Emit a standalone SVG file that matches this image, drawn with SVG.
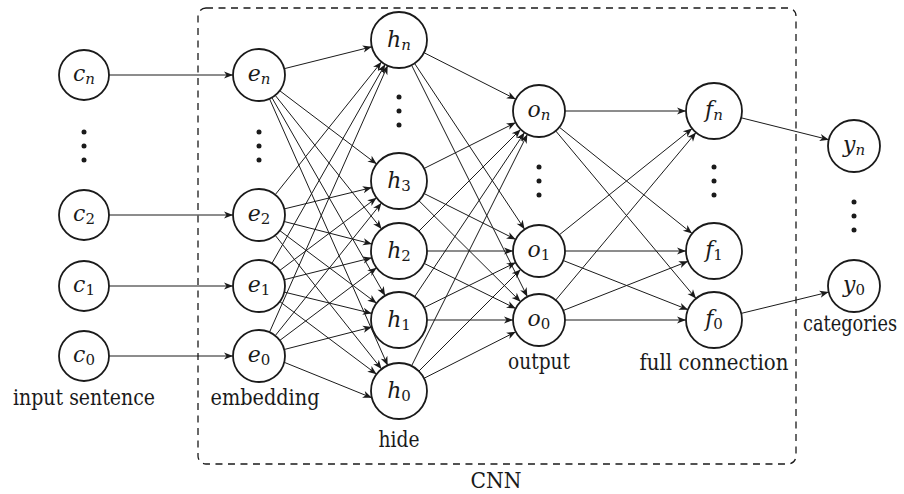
<svg xmlns="http://www.w3.org/2000/svg" width="904" height="494" viewBox="0 0 904 494">
<style>
.n{fill:#fff;stroke:#1a1a1a;stroke-width:1.8}
.c line{stroke:#1a1a1a;stroke-width:1;marker-end:url(#ah)}
.m{font-family:'DejaVu Serif',serif;font-style:italic;font-size:22px;fill:#1a1a1a;text-anchor:middle}
.s{font-style:normal;font-size:15px}
.si{font-style:italic;font-size:15px}
.t{font-family:'DejaVu Serif',serif;font-size:22px;fill:#1a1a1a;text-anchor:middle}
.d{fill:#1a1a1a}
</style>
<defs>
<marker id="ah" viewBox="-10 -5 11 10" refX="0" refY="0" markerWidth="11" markerHeight="10" markerUnits="userSpaceOnUse" orient="auto">
<path d="M0,0 L-9,-3.6 L-6.5,0 L-9,3.6 Z" fill="#1a1a1a"/>
</marker>
</defs>
<rect x="198" y="8" width="598" height="456" rx="8" fill="none" stroke="#1a1a1a" stroke-width="1.3" stroke-dasharray="7 5.5"/>
<g id="connectors" class="c">
<line x1="109" y1="75" x2="233" y2="75"/>
<line x1="109" y1="215" x2="233" y2="215"/>
<line x1="109" y1="286" x2="233" y2="286"/>
<line x1="109" y1="356" x2="233" y2="356"/>
<line x1="284.2" y1="68.7" x2="371.8" y2="46.8"/>
<line x1="279.7" y1="90.7" x2="376.7" y2="164.1"/>
<line x1="275.2" y1="95.3" x2="381.6" y2="229.1"/>
<line x1="271.9" y1="97.6" x2="385.1" y2="295.7"/>
<line x1="269.5" y1="98.8" x2="387.7" y2="365.4"/>
<line x1="275.2" y1="194.7" x2="381.5" y2="61.9"/>
<line x1="284.3" y1="208.9" x2="371.8" y2="187.6"/>
<line x1="284.2" y1="221.5" x2="371.9" y2="244.0"/>
<line x1="279.8" y1="230.6" x2="376.6" y2="303.2"/>
<line x1="275.2" y1="235.3" x2="381.6" y2="369.1"/>
<line x1="271.9" y1="263.4" x2="385.2" y2="64.3"/>
<line x1="279.8" y1="270.4" x2="376.6" y2="197.8"/>
<line x1="284.2" y1="279.7" x2="371.8" y2="257.8"/>
<line x1="284.3" y1="292.1" x2="371.8" y2="313.4"/>
<line x1="279.8" y1="301.6" x2="376.6" y2="374.2"/>
<line x1="269.5" y1="332.2" x2="387.7" y2="65.6"/>
<line x1="275.2" y1="335.7" x2="381.5" y2="202.9"/>
<line x1="279.8" y1="340.4" x2="376.6" y2="267.8"/>
<line x1="284.2" y1="349.5" x2="371.9" y2="327.0"/>
<line x1="284.2" y1="362.3" x2="371.8" y2="397.8"/>
<line x1="424.0" y1="52.7" x2="515.8" y2="99.2"/>
<line x1="414.5" y1="63.3" x2="524.6" y2="229.3"/>
<line x1="411.5" y1="65.0" x2="527.4" y2="296.7"/>
<line x1="424.0" y1="168.5" x2="515.7" y2="122.6"/>
<line x1="424.0" y1="193.5" x2="515.7" y2="239.4"/>
<line x1="418.9" y1="200.7" x2="520.6" y2="301.7"/>
<line x1="418.8" y1="231.2" x2="520.6" y2="129.4"/>
<line x1="427" y1="251" x2="513" y2="251"/>
<line x1="424.1" y1="263.4" x2="515.7" y2="308.5"/>
<line x1="414.6" y1="296.7" x2="524.5" y2="132.6"/>
<line x1="424.1" y1="307.6" x2="515.7" y2="262.5"/>
<line x1="427" y1="320" x2="513" y2="320"/>
<line x1="411.5" y1="366.0" x2="527.4" y2="134.3"/>
<line x1="418.8" y1="371.2" x2="520.6" y2="269.4"/>
<line x1="424.0" y1="378.3" x2="515.8" y2="331.8"/>
<line x1="565" y1="111" x2="686" y2="111"/>
<line x1="559.3" y1="127.2" x2="692.1" y2="233.5"/>
<line x1="555.7" y1="130.9" x2="696.0" y2="298.5"/>
<line x1="559.3" y1="234.8" x2="692.1" y2="128.5"/>
<line x1="565" y1="251" x2="686" y2="251"/>
<line x1="563.2" y1="260.5" x2="688.0" y2="309.7"/>
<line x1="555.7" y1="300.1" x2="696.0" y2="132.5"/>
<line x1="563.2" y1="310.5" x2="688.0" y2="261.3"/>
<line x1="565" y1="320" x2="686" y2="320"/>
<line x1="741.2" y1="117.8" x2="828.8" y2="139.7"/>
<line x1="741.2" y1="313.4" x2="828.7" y2="292.1"/>
</g>
<g id="cn"><circle class="n" cx="84" cy="75" r="25"/><text class="m" x="84" y="81">c<tspan class="si" dy="3">n</tspan></text></g>
<g id="c2"><circle class="n" cx="84" cy="215" r="25"/><text class="m" x="84" y="221">c<tspan class="s" dy="3">2</tspan></text></g>
<g id="c1"><circle class="n" cx="84" cy="286" r="25"/><text class="m" x="84" y="292">c<tspan class="s" dy="3">1</tspan></text></g>
<g id="c0"><circle class="n" cx="84" cy="356" r="25"/><text class="m" x="84" y="362">c<tspan class="s" dy="3">0</tspan></text></g>
<g id="c-dots"><circle class="d" cx="84" cy="132" r="2.5"/><circle class="d" cx="84" cy="146" r="2.5"/><circle class="d" cx="84" cy="160" r="2.5"/></g>
<g id="en"><circle class="n" cx="259" cy="75" r="26"/><text class="m" x="259" y="81">e<tspan class="si" dy="3">n</tspan></text></g>
<g id="e2"><circle class="n" cx="259" cy="215" r="26"/><text class="m" x="259" y="221">e<tspan class="s" dy="3">2</tspan></text></g>
<g id="e1"><circle class="n" cx="259" cy="286" r="26"/><text class="m" x="259" y="292">e<tspan class="s" dy="3">1</tspan></text></g>
<g id="e0"><circle class="n" cx="259" cy="356" r="26"/><text class="m" x="259" y="362">e<tspan class="s" dy="3">0</tspan></text></g>
<g id="e-dots"><circle class="d" cx="259" cy="132" r="2.5"/><circle class="d" cx="259" cy="146" r="2.5"/><circle class="d" cx="259" cy="160" r="2.5"/></g>
<g id="hn"><circle class="n" cx="399" cy="40" r="28"/><text class="m" x="399" y="47">h<tspan class="si" dy="3">n</tspan></text></g>
<g id="h3"><circle class="n" cx="399" cy="181" r="28"/><text class="m" x="399" y="188">h<tspan class="s" dy="3">3</tspan></text></g>
<g id="h2"><circle class="n" cx="399" cy="251" r="28"/><text class="m" x="399" y="258">h<tspan class="s" dy="3">2</tspan></text></g>
<g id="h1"><circle class="n" cx="399" cy="320" r="28"/><text class="m" x="399" y="327">h<tspan class="s" dy="3">1</tspan></text></g>
<g id="h0"><circle class="n" cx="399" cy="391" r="28"/><text class="m" x="399" y="398">h<tspan class="s" dy="3">0</tspan></text></g>
<g id="h-dots"><circle class="d" cx="399" cy="97" r="2.5"/><circle class="d" cx="399" cy="111" r="2.5"/><circle class="d" cx="399" cy="125" r="2.5"/></g>
<g id="on"><circle class="n" cx="539" cy="111" r="26"/><text class="m" x="539" y="117">o<tspan class="si" dy="3">n</tspan></text></g>
<g id="o1"><circle class="n" cx="539" cy="251" r="26"/><text class="m" x="539" y="257">o<tspan class="s" dy="3">1</tspan></text></g>
<g id="o0"><circle class="n" cx="539" cy="320" r="26"/><text class="m" x="539" y="326">o<tspan class="s" dy="3">0</tspan></text></g>
<g id="o-dots"><circle class="d" cx="539" cy="167" r="2.5"/><circle class="d" cx="539" cy="181" r="2.5"/><circle class="d" cx="539" cy="195" r="2.5"/></g>
<g id="fn"><circle class="n" cx="714" cy="111" r="28"/><text class="m" x="714" y="117">f<tspan class="si" dy="3">n</tspan></text></g>
<g id="f1"><circle class="n" cx="714" cy="251" r="28"/><text class="m" x="714" y="257">f<tspan class="s" dy="3">1</tspan></text></g>
<g id="f0"><circle class="n" cx="714" cy="320" r="28"/><text class="m" x="714" y="326">f<tspan class="s" dy="3">0</tspan></text></g>
<g id="f-dots"><circle class="d" cx="714" cy="167" r="2.5"/><circle class="d" cx="714" cy="181" r="2.5"/><circle class="d" cx="714" cy="195" r="2.5"/></g>
<g id="yn"><circle class="n" cx="854" cy="146" r="26"/><text class="m" x="854" y="152">y<tspan class="si" dy="3">n</tspan></text></g>
<g id="y0"><circle class="n" cx="854" cy="286" r="26"/><text class="m" x="854" y="292">y<tspan class="s" dy="3">0</tspan></text></g>
<g id="y-dots"><circle class="d" cx="854" cy="202" r="2.5"/><circle class="d" cx="854" cy="216" r="2.5"/><circle class="d" cx="854" cy="230" r="2.5"/></g>
<g id="labels">
<text class="t" x="84" y="405" textLength="142" lengthAdjust="spacingAndGlyphs">input sentence</text>
<text class="t" x="265" y="405" textLength="109" lengthAdjust="spacingAndGlyphs">embedding</text>
<text class="t" x="399" y="447" textLength="41" lengthAdjust="spacingAndGlyphs">hide</text>
<text class="t" x="539" y="369" textLength="62" lengthAdjust="spacingAndGlyphs">output</text>
<text class="t" x="714" y="370" textLength="149" lengthAdjust="spacingAndGlyphs">full connection</text>
<text class="t" x="850" y="331" textLength="94" lengthAdjust="spacingAndGlyphs">categories</text>
<text class="t" x="496" y="488" textLength="51" lengthAdjust="spacingAndGlyphs">CNN</text>
</g>
</svg>
